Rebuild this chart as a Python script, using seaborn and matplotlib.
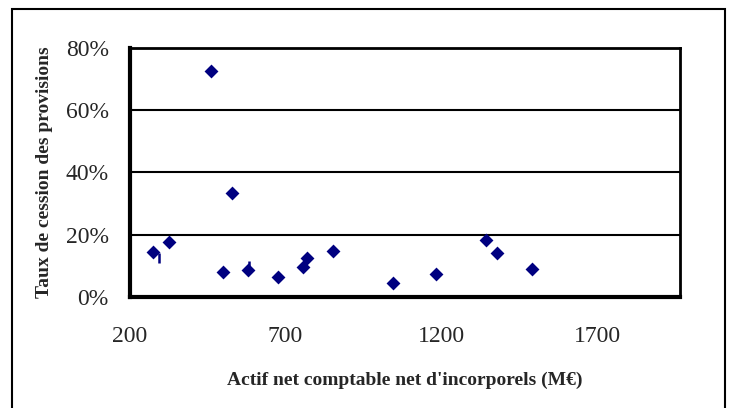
import matplotlib
matplotlib.use('Agg')
import pandas as pd
import seaborn as sns
import matplotlib.pyplot as plt
from matplotlib.patches import Rectangle
from matplotlib.ticker import PercentFormatter

sns.set_style('white')
plt.rcParams['font.family'] = ['Liberation Serif', 'DejaVu Serif']

# valeurs
actif = [275, 326, 461, 499, 528, 579, 675, 755, 768, 851, 1046, 1184, 1344, 1379, 1491]
taux = [14.5, 17.7, 72.6, 8.1, 33.5, 8.7, 6.5, 9.7, 12.6, 14.8, 4.5, 7.4, 18.4, 14.2, 9.0]
# petits traits verticaux
actif_trait = [294, 584]
taux_trait = [12.4, 10.0]
x_ticks = [200, 700, 1200, 1700]
y_ticks = [0, 20, 40, 60, 80]

df = pd.DataFrame({'actif': actif, 'taux': taux})
df_trait = pd.DataFrame({'actif': actif_trait, 'taux': taux_trait})

fig = plt.figure(figsize=(7.31, 4.08), dpi=100)
ax = fig.add_axes([129.5 / 731, 1 - 297 / 408, (680 - 129.5) / 731, (297 - 48) / 408])

# cadre extérieur (le bas est coupé)
fig.patches.append(Rectangle((12 / 731, -0.05), (725 - 12) / 731, 1.05 - 9 / 408,
                             transform=fig.transFigure, fill=False,
                             edgecolor='black', linewidth=1.5, clip_on=False))

sns.scatterplot(data=df, x='actif', y='taux', marker='D', s=50, color='#000080',
                edgecolor='#000080', linewidth=0, ax=ax, zorder=3)
sns.scatterplot(data=df_trait, x='actif', y='taux', marker='|', s=60, color='#000080',
                linewidth=1.8, ax=ax, zorder=3)

ax.set_xlim(200, 1965)
ax.set_ylim(0, 80)
ax.set_xticks(x_ticks)
ax.set_yticks(y_ticks)
ax.yaxis.set_major_formatter(PercentFormatter(decimals=0))
for y in [20, 40, 60]:
    ax.axhline(y, color='black', linewidth=1.5, zorder=1)

for side in ['top', 'right']:
    ax.spines[side].set_linewidth(2)
    ax.spines[side].set_color('black')
for side in ['left', 'bottom']:
    ax.spines[side].set_linewidth(3)
    ax.spines[side].set_color('black')

ax.tick_params(axis='both', direction='out', length=5, width=2, color='black',
               labelsize=17, pad=10)
ax.tick_params(axis='x', pad=16)

ax.set_xlabel("Actif net comptable net d'incorporels (M€)", fontsize=14, fontweight='bold', labelpad=18)
ax.set_ylabel('Taux de cession des provisions', fontsize=14, fontweight='bold', labelpad=9)

fig.savefig('out.png', dpi=100)
